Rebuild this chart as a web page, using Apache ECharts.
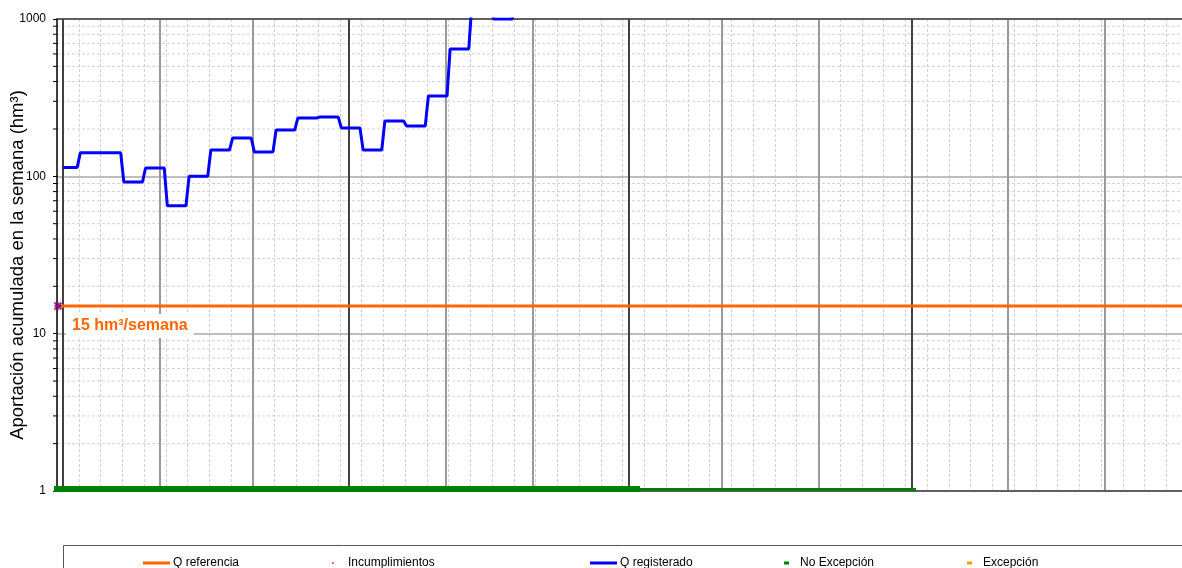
<!DOCTYPE html>
<html>
<head>
<meta charset="utf-8">
<script src="https://cdn.jsdelivr.net/npm/echarts@6/dist/echarts.min.js"></script>
<style>
  html, body { margin: 0; padding: 0; background: #fff; }
  #chart { width: 1182px; height: 568px; }
</style>
</head>
<body>
<div id="chart"></div>
<script>
// eje x en días: día 0 = 29-sep, día 2 = 1-oct (inicio del año hidrológico)
const diaInicio = Date.UTC(2014, 8, 29)
const numDias = 363

// valores
const qReferencia = 15
const primerDia = 2
// aportación acumulada por semana (la semana k empieza el día 7k)
const qRegistradoSemanas = [114, 141, 141, 92, 113, 65, 100, 147, 175, 143, 197, 235, 238, 203, 147, 225, 209, 324, 645, 1250, 1000, 1300]
const noExcepcionA = [[-3.2, 1.03], [187.6, 1.03]]
const noExcepcionB = [[187.6, 1.022], [276.4, 1.022]]
const incumplimientos = []
const excepcion = []
const marcaInicio = [[0.3, 15]]
const yMenores = [2, 3, 4, 5, 6, 7, 8, 9, 20, 30, 40, 50, 60, 70, 80, 90, 200, 300, 400, 500, 600, 700, 800, 900]

const fuente = 'Liberation Sans, Arial, sans-serif'

const dias = []
for (let i = 0; i < numDias; i++) {
  dias.push(new Date(diaInicio + i * 86400000).toISOString().slice(0, 10))
}

const qRegistrado = [[primerDia, qRegistradoSemanas[0]]]
for (let k = 1; k < qRegistradoSemanas.length; k++) {
  qRegistrado.push([7 * k - 0.5, qRegistradoSemanas[k - 1]])
  qRegistrado.push([7 * k + 0.5, qRegistradoSemanas[k]])
}
qRegistrado.push([7 * qRegistradoSemanas.length - 0.5, qRegistradoSemanas[qRegistradoSemanas.length - 1]])

const chart = echarts.init(document.getElementById('chart'))

function leyenda(name, left, icon, w, h, pad) {
  return {
    left: left,
    top: 557,
    padding: 0,
    data: [{ name: name, icon: icon }],
    itemWidth: w,
    itemHeight: h,
    textStyle: { fontSize: 12, color: '#000', fontFamily: fuente, padding: [0, 0, 0, pad] }
  }
}

const ocultar = { axisLine: { show: false }, axisTick: { show: false }, axisLabel: { show: false } }

chart.setOption({
  animation: false,
  grid: { left: 57, right: 0, top: 19, bottom: 77 },
  xAxis: [
    {
      type: 'value', min: 0, max: numDias - 1, z: 1,
      axisLine: { show: true, onZero: false, lineStyle: { color: '#404040', width: 1.5 } },
      axisTick: { show: false }, axisLabel: { show: false }, splitLine: { show: false }
    },
    {
      // líneas semanales
      type: 'value', min: 0, max: numDias - 1, interval: 7, ...ocultar,
      splitLine: { show: true, lineStyle: { color: '#d2d2d2', width: 1, type: [3, 2] } }
    },
    {
      // líneas mensuales
      type: 'category', data: dias, boundaryGap: false, z: 1, ...ocultar,
      splitLine: {
        show: true,
        interval: (i, v) => v.slice(8) === '01',
        lineStyle: { color: '#9a9a9a', width: 2 }
      }
    },
    {
      // líneas trimestrales y marco superior
      type: 'category', data: dias, boundaryGap: false, position: 'top', z: 1,
      axisLine: { show: true, lineStyle: { color: '#404040', width: 1.5 } },
      axisTick: { show: false }, axisLabel: { show: false },
      splitLine: {
        show: true,
        interval: (i, v) => v.slice(8) === '01' && ['01', '04', '07', '10'].includes(v.slice(5, 7)),
        lineStyle: { color: '#404040', width: 2 }
      }
    }
  ],
  yAxis: {
    type: 'log', logBase: 10, min: 1, max: 1000, z: 1,
    axisLine: { show: true, lineStyle: { color: '#000', width: 1.5 } },
    axisTick: { show: true, length: 4, lineStyle: { color: '#000' } },
    axisLabel: { fontSize: 12, color: '#000', margin: 11, fontFamily: fuente, formatter: v => String(v) },
    splitLine: { show: true, lineStyle: { color: '#a8a8a8', width: 1.5 } }
  },
  legend: [
    leyenda('Q referencia', 143, 'rect', 27, 3, -2),
    leyenda('Incumplimientos', 332, 'circle', 2, 2, 9),
    leyenda('Q registerado', 590, 'rect', 27, 3, -2),
    leyenda('No Excepción', 784, 'rect', 5, 3, 6),
    leyenda('Excepción', 967, 'rect', 5, 3, 6)
  ],
  graphic: [
    {
      type: 'rect', silent: true,
      shape: { x: 63.5, y: 545.5, width: 1200, height: 40 },
      style: { fill: 'none', stroke: '#555', lineWidth: 1 }
    },
    {
      type: 'text', x: 18, y: 265, rotation: Math.PI / 2,
      style: {
        text: 'Aportación acumulada en la semana (hm³)',
        fontSize: 18.5, fontFamily: fuente, fill: '#000',
        align: 'center', verticalAlign: 'middle'
      }
    },
    {
      type: 'text', x: 66, y: 314, z: 10,
      style: {
        text: '15 hm³/semana',
        fontSize: 16, fontWeight: 'bold', fontFamily: fuente, fill: '#FF6600',
        backgroundColor: '#fff', padding: [4, 6, 4, 6]
      }
    }
  ],
  series: [
    {
      type: 'custom', name: 'rejilla', silent: true, z: 0, clip: false,
      data: yMenores.map(v => [0, v]),
      renderItem: (params, api) => {
        const p = api.coord([0, api.value(1)])
        const cs = params.coordSys
        return {
          type: 'group',
          children: [
            { type: 'line', shape: { x1: cs.x, y1: p[1], x2: cs.x + cs.width, y2: p[1] },
              style: { stroke: '#d2d2d2', lineWidth: 1, lineDash: [3, 2] } },
            { type: 'line', shape: { x1: cs.x - 4, y1: p[1], x2: cs.x, y2: p[1] },
              style: { stroke: '#000', lineWidth: 1 } }
          ]
        }
      }
    },
    {
      name: 'Q referencia', type: 'line', symbol: 'none', color: '#FF6600',
      lineStyle: { color: '#FF6600', width: 3 },
      data: [[0, qReferencia], [numDias - 1, qReferencia]]
    },
    {
      name: 'Incumplimientos', type: 'scatter', color: '#FF0000', symbolSize: 3,
      data: incumplimientos
    },
    {
      name: 'Q registerado', type: 'line', symbol: 'none', color: '#0000FF',
      lineStyle: { color: '#0000FF', width: 3 },
      data: qRegistrado
    },
    {
      name: 'No Excepción', type: 'line', symbol: 'none', color: '#008000', clip: false,
      lineStyle: { color: '#008000', width: 6 },
      data: noExcepcionA
    },
    {
      name: 'No Excepción', type: 'line', symbol: 'none', color: '#008000', clip: false,
      lineStyle: { color: '#008000', width: 3 },
      data: noExcepcionB
    },
    {
      name: 'Excepción', type: 'line', symbol: 'none', color: '#FF9900',
      lineStyle: { color: '#FF9900', width: 3 },
      data: excepcion
    },
    {
      name: 'marca', type: 'scatter', z: 5,
      symbol: 'path://M0 0L10 10M10 0L0 10M5 0L5 10M0 5L10 5', symbolSize: 7,
      itemStyle: { color: 'transparent', borderColor: '#800080', borderWidth: 2 },
      data: marcaInicio
    }
  ]
})
</script>
</body>
</html>
